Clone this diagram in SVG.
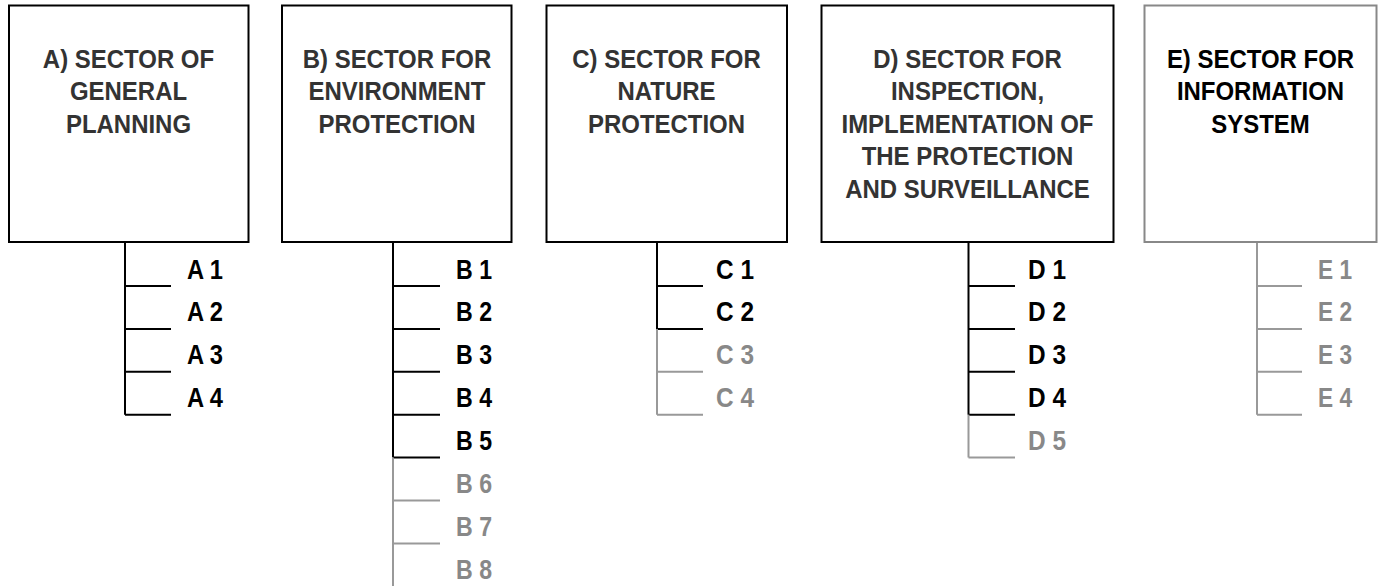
<svg xmlns="http://www.w3.org/2000/svg" width="1379" height="586" viewBox="0 0 1379 586">
<style>
.box{fill:#fff;stroke:#000;stroke-width:2}
.box.g{stroke:#888}
.title{font-family:"Liberation Sans",Arial,sans-serif;font-weight:bold;font-size:25.5px;fill:#333;text-anchor:middle}
.lbl{font-family:"Liberation Sans",Arial,sans-serif;font-weight:bold;font-size:27px;fill:#000}
.lbl.g{fill:#888}
.k{stroke:#000;stroke-width:2;fill:none}
.gl{stroke:#999;stroke-width:2;fill:none}
</style>
<rect width="1379" height="586" fill="#fff"/>
<g id="connectors">
  <path class="k" d="M125 242V414.7M125 286H171M125 328.9H171M125 371.8H171M125 414.7H171"/>
  <path class="k" d="M393 242V457.6M393 286H440M393 328.9H440M393 371.8H440M393 414.7H440M393 457.6H440"/>
  <path class="gl" d="M393 457.6V586M393 500.5H440M393 543.4H440"/>
  <path class="k" d="M657 242V328.9M657 286H703M657 328.9H703"/>
  <path class="gl" d="M657 328.9V414.7M657 371.8H703M657 414.7H703"/>
  <path class="k" d="M968.5 242V414.7M968.5 286H1015M968.5 328.9H1015M968.5 371.8H1015M968.5 414.7H1015"/>
  <path class="gl" d="M968.5 414.7V457.6M968.5 457.6H1015"/>
  <path class="gl" d="M1257 242V414.7M1257 286H1302M1257 328.9H1302M1257 371.8H1302M1257 414.7H1302"/>
</g>
<g id="nodeA">
  <rect class="box" x="9" y="5.5" width="239.5" height="236.5"/>
  <text class="title" transform="translate(128.5 0) scale(0.94 1)"><tspan x="0" y="68">A) SECTOR OF</tspan><tspan x="0" y="100.5">GENERAL</tspan><tspan x="0" y="133">PLANNING</tspan></text>
</g>
<g id="nodeB">
  <rect class="box" x="282" y="5.5" width="229.5" height="236.5"/>
  <text class="title" transform="translate(397 0) scale(0.94 1)"><tspan x="0" y="68">B) SECTOR FOR</tspan><tspan x="0" y="100.5">ENVIRONMENT</tspan><tspan x="0" y="133">PROTECTION</tspan></text>
</g>
<g id="nodeC">
  <rect class="box" x="546.5" y="5.5" width="240.5" height="236.5"/>
  <text class="title" transform="translate(666.5 0) scale(0.94 1)"><tspan x="0" y="68">C) SECTOR FOR</tspan><tspan x="0" y="100.5">NATURE</tspan><tspan x="0" y="133">PROTECTION</tspan></text>
</g>
<g id="nodeD">
  <rect class="box" x="821.5" y="5.5" width="292" height="236.5"/>
  <text class="title" transform="translate(967.5 0) scale(0.94 1)"><tspan x="0" y="68">D) SECTOR FOR</tspan><tspan x="0" y="100.5">INSPECTION,</tspan><tspan x="0" y="133">IMPLEMENTATION OF</tspan><tspan x="0" y="165.5">THE PROTECTION</tspan><tspan x="0" y="198">AND SURVEILLANCE</tspan></text>
</g>
<g id="nodeE">
  <rect class="box g" x="1144.5" y="5.5" width="232" height="236.5"/>
  <text class="title" style="fill:#000" transform="translate(1260.5 0) scale(0.94 1)"><tspan x="0" y="68">E) SECTOR FOR</tspan><tspan x="0" y="100.5">INFORMATION</tspan><tspan x="0" y="133">SYSTEM</tspan></text>
</g>
<g id="itemsA">
  <text class="lbl" x="187" y="278.5" textLength="36" lengthAdjust="spacingAndGlyphs">A 1</text>
  <text class="lbl" x="187" y="321.4" textLength="36" lengthAdjust="spacingAndGlyphs">A 2</text>
  <text class="lbl" x="187" y="364.3" textLength="36" lengthAdjust="spacingAndGlyphs">A 3</text>
  <text class="lbl" x="187" y="407.2" textLength="36" lengthAdjust="spacingAndGlyphs">A 4</text>
</g>
<g id="itemsB">
  <text class="lbl" x="456" y="278.5" textLength="36" lengthAdjust="spacingAndGlyphs">B 1</text>
  <text class="lbl" x="456" y="321.4" textLength="36" lengthAdjust="spacingAndGlyphs">B 2</text>
  <text class="lbl" x="456" y="364.3" textLength="36" lengthAdjust="spacingAndGlyphs">B 3</text>
  <text class="lbl" x="456" y="407.2" textLength="36" lengthAdjust="spacingAndGlyphs">B 4</text>
  <text class="lbl" x="456" y="450.1" textLength="36" lengthAdjust="spacingAndGlyphs">B 5</text>
  <text class="lbl g" x="456" y="493" textLength="36" lengthAdjust="spacingAndGlyphs">B 6</text>
  <text class="lbl g" x="456" y="535.9" textLength="36" lengthAdjust="spacingAndGlyphs">B 7</text>
  <text class="lbl g" x="456" y="578.8" textLength="36" lengthAdjust="spacingAndGlyphs">B 8</text>
</g>
<g id="itemsC">
  <text class="lbl" x="716" y="278.5" textLength="38" lengthAdjust="spacingAndGlyphs">C 1</text>
  <text class="lbl" x="716" y="321.4" textLength="38" lengthAdjust="spacingAndGlyphs">C 2</text>
  <text class="lbl g" x="716" y="364.3" textLength="38" lengthAdjust="spacingAndGlyphs">C 3</text>
  <text class="lbl g" x="716" y="407.2" textLength="38" lengthAdjust="spacingAndGlyphs">C 4</text>
</g>
<g id="itemsD">
  <text class="lbl" x="1028" y="278.5" textLength="38" lengthAdjust="spacingAndGlyphs">D 1</text>
  <text class="lbl" x="1028" y="321.4" textLength="38" lengthAdjust="spacingAndGlyphs">D 2</text>
  <text class="lbl" x="1028" y="364.3" textLength="38" lengthAdjust="spacingAndGlyphs">D 3</text>
  <text class="lbl" x="1028" y="407.2" textLength="38" lengthAdjust="spacingAndGlyphs">D 4</text>
  <text class="lbl g" x="1028" y="450.1" textLength="38" lengthAdjust="spacingAndGlyphs">D 5</text>
</g>
<g id="itemsE">
  <text class="lbl g" x="1318" y="278.5" textLength="34" lengthAdjust="spacingAndGlyphs">E 1</text>
  <text class="lbl g" x="1318" y="321.4" textLength="34" lengthAdjust="spacingAndGlyphs">E 2</text>
  <text class="lbl g" x="1318" y="364.3" textLength="34" lengthAdjust="spacingAndGlyphs">E 3</text>
  <text class="lbl g" x="1318" y="407.2" textLength="34" lengthAdjust="spacingAndGlyphs">E 4</text>
</g>
</svg>
